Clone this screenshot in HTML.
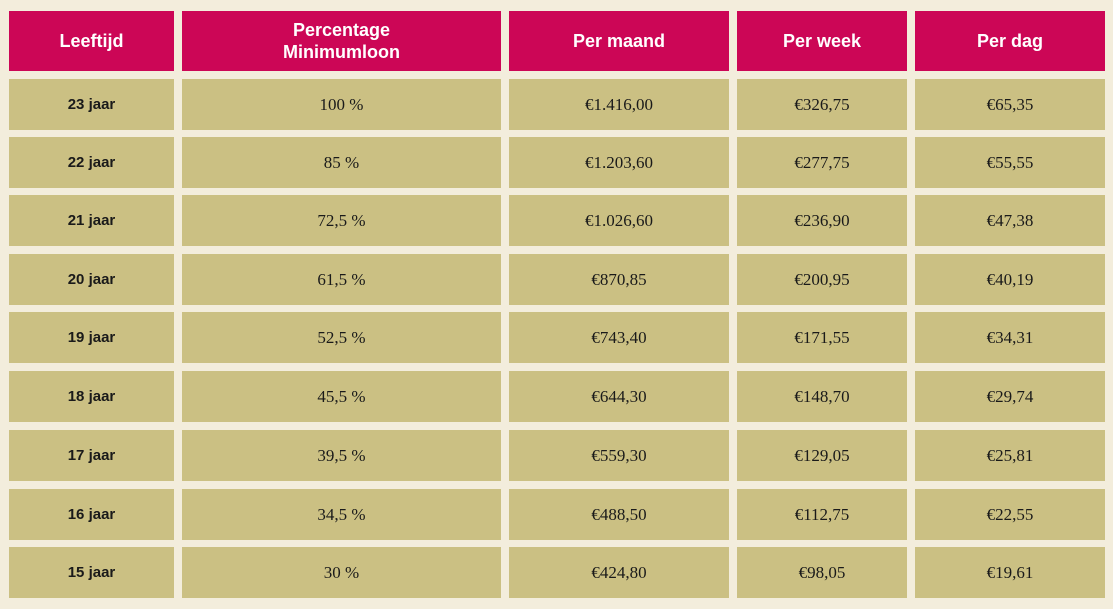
<!DOCTYPE html>
<html><head><meta charset="utf-8"><style>
body{margin:0;width:1113px;height:609px;background:#f3eddc;position:relative;overflow:hidden;font-family:"Liberation Sans",sans-serif}
.c{position:absolute;display:flex;align-items:center;justify-content:center;text-align:center;box-sizing:border-box}
.h{background:#cc0656;color:#fff;font-weight:bold;font-size:18px;line-height:22px}
.b{background:#cbc083;color:#1a1a1a;font-size:17px;font-family:"Liberation Serif",serif}
.b.first{font-family:"Liberation Sans",sans-serif;font-weight:bold;font-size:15px}
</style></head><body>
<script>
const heads=["Leeftijd","Percentage<br>Minimumloon","Per maand","Per week","Per dag"];
const rows=[
["23 jaar","100 %","€1.416,00","€326,75","€65,35"],
["22 jaar","85 %","€1.203,60","€277,75","€55,55"],
["21 jaar","72,5 %","€1.026,60","€236,90","€47,38"],
["20 jaar","61,5 %","€870,85","€200,95","€40,19"],
["19 jaar","52,5 %","€743,40","€171,55","€34,31"],
["18 jaar","45,5 %","€644,30","€148,70","€29,74"],
["17 jaar","39,5 %","€559,30","€129,05","€25,81"],
["16 jaar","34,5 %","€488,50","€112,75","€22,55"],
["15 jaar","30 %","€424,80","€98,05","€19,61"]];
const colX=[9,182,509,737,915], colW=[165,319,220,170,190];
const rowY=[79,137,195,254,312,371,430,489,547];
heads.forEach((t,i)=>{
 const d=document.createElement('div');d.className='c h';
 d.style.cssText=`left:${colX[i]}px;top:11px;width:${colW[i]}px;height:60px`;
 d.innerHTML=t;
 
 
 document.body.appendChild(d);
});
rows.forEach((r,ri)=>r.forEach((t,i)=>{
 const d=document.createElement('div');d.className='c b'+(i==0?' first':'');
 d.style.cssText=`left:${colX[i]}px;top:${rowY[ri]}px;width:${colW[i]}px;height:51px`;
 d.textContent=t;
 
 
 document.body.appendChild(d);
}));
</script>
</body></html>
